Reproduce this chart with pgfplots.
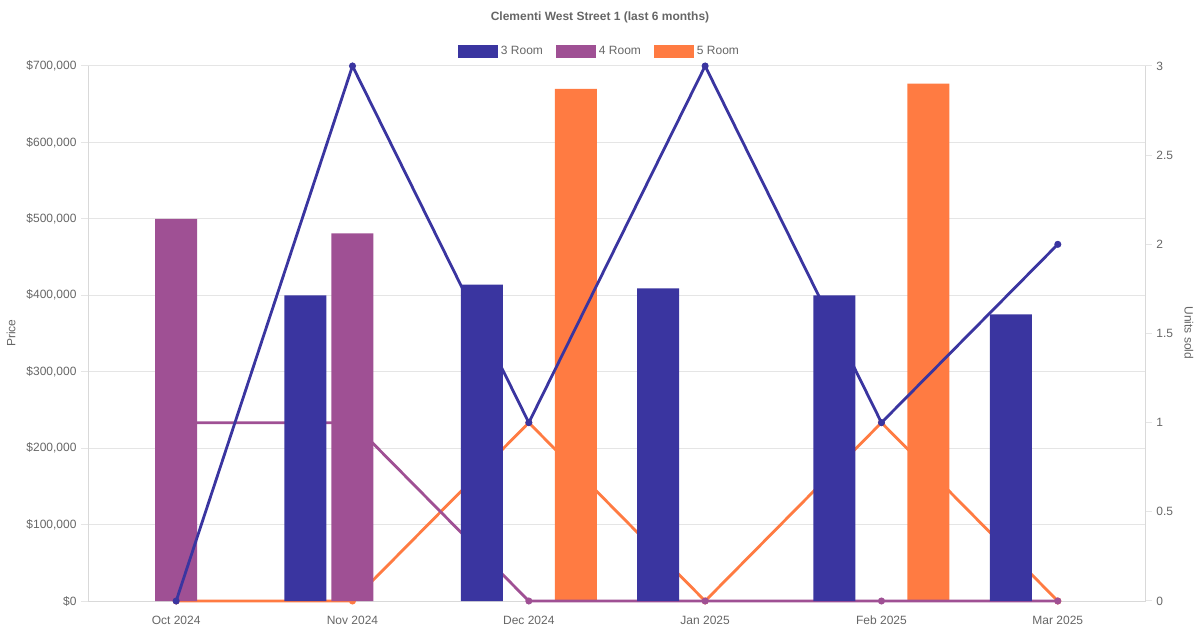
\documentclass[border=0pt]{standalone}
\usepackage{pgfplots}
\pgfplotsset{compat=1.18}
\usepackage{fontspec}
\setmainfont{Liberation Sans}
\definecolor{cthree}{HTML}{3A35A0}
\definecolor{cfour}{HTML}{9F5094}
\definecolor{cfive}{HTML}{FF7B42}
\definecolor{labelgray}{HTML}{666666}
\definecolor{gridgray}{HTML}{E5E5E5}
\definecolor{axisgray}{HTML}{D9D9D9}
\begin{document}
\begin{tikzpicture}
\useasboundingbox (0,0) rectangle (1200bp,630bp);
\pgfplotsset{base/.style={scale only axis, width=1058bp, height=535bp,
  at={(88bp,29bp)}, anchor=south west, xmin=-0.5, xmax=5.5,
  font=\fontsize{12bp}{14bp}\selectfont,
  /pgf/number format/assume math mode=true,
  tick label style={text=labelgray, font=\fontsize{12bp}{14bp}\selectfont},
  clip=false},
  price/.style={base, ymin=0, ymax=700000},
  units/.style={base, ymin=0, ymax=3},
  linestyle/.style={color=#1, line width=2.8bp, mark=*, mark size=3bp, mark options={solid, fill=#1, draw=#1, line width=1bp}},
  barstyle/.style={ybar, bar width=42bp, fill=#1, draw=none},
}
% background: price axis with grid
\begin{axis}[price,
  axis lines*=left,
  axis line style={draw=axisgray, line width=1bp},
  ymajorgrids, grid style={draw=gridgray, line width=1bp},
  ytick={0,100000,200000,300000,400000,500000,600000,700000},
  yticklabels={{\$0},{\$100,000},{\$200,000},{\$300,000},{\$400,000},{\$500,000},{\$600,000},{\$700,000}},
  scaled y ticks=false,
  tick align=outside, major tick length=7bp,
  ytick style={draw=gridgray, line width=1bp},
  xtick={0,1,2,3,4,5},
  xticklabels={Oct 2024,Nov 2024,Dec 2024,Jan 2025,Feb 2025,Mar 2025},
  xtick style={draw=none},
  xticklabel style={yshift=-4bp, text height=9bp, text depth=2.5bp},
  yticklabel style={xshift=-1bp},
]
\addplot[draw=none] coordinates {(0,0)};
\end{axis}
% right axis + 5 Room units line
\begin{axis}[units,
  axis x line=none, axis y line*=right,
  axis line style={draw=axisgray, line width=1bp},
  ytick={0,0.5,1,1.5,2,2.5,3},
  yticklabels={0,0.5,1,1.5,2,2.5,3},
  tick align=outside, major tick length=6bp,
  ytick style={draw=gridgray, line width=1bp},
  yticklabel style={xshift=1bp},
]
\addplot[linestyle=cfive] coordinates {(0,0) (1,0) (2,1) (3,0) (4,1) (5,0)};
\end{axis}
% 5 Room price bars
\begin{axis}[price, hide axis]
\addplot[barstyle=cfive, bar shift=47bp] coordinates {(2,670000) (4,677000)};
\end{axis}
% 4 Room units line
\begin{axis}[units, hide axis]
\addplot[linestyle=cfour] coordinates {(0,1) (1,1) (2,0) (3,0) (4,0) (5,0)};
\end{axis}
% 4 Room price bars
\begin{axis}[price, hide axis]
\addplot[barstyle=cfour, bar shift=0bp] coordinates {(0,500000) (1,481000)};
\end{axis}
% 3 Room units line
\begin{axis}[units, hide axis]
\addplot[linestyle=cthree] coordinates {(0,0) (1,3) (2,1) (3,3) (4,1) (5,2)};
\end{axis}
% 3 Room price bars + legend
\begin{axis}[price, hide axis,
  legend columns=3,
  legend style={draw=none, fill=none, at={(axis description cs:0.4839,1.028)}, anchor=center,
    font=\fontsize{12bp}{14bp}\selectfont, text=labelgray,
    /tikz/every even column/.append style={column sep=10bp},
    nodes={inner sep=3bp}},
  legend image code/.code={\fill[#1] (0bp,-6.5bp) rectangle (40bp,6.5bp);},
]
\addplot[barstyle=cthree, bar shift=-47bp]
  coordinates {(1,400000) (2,414000) (3,409000) (4,400000) (5,375000)};
\addlegendentry{3 Room}
\addlegendimage{fill=cfour, draw=none}
\addlegendentry{4 Room}
\addlegendimage{fill=cfive, draw=none}
\addlegendentry{5 Room}
\end{axis}
\node[font=\bfseries\fontsize{12bp}{14bp}\selectfont, text=labelgray] at (600bp,613bp) {Clementi West Street 1 (last 6 months)};
\node[rotate=90, font=\fontsize{12bp}{14bp}\selectfont, text=labelgray] at (11bp,297bp) {Price};
\node[rotate=-90, font=\fontsize{12bp}{14bp}\selectfont, text=labelgray] at (1189bp,297bp) {Units sold};
\end{tikzpicture}
\end{document}
